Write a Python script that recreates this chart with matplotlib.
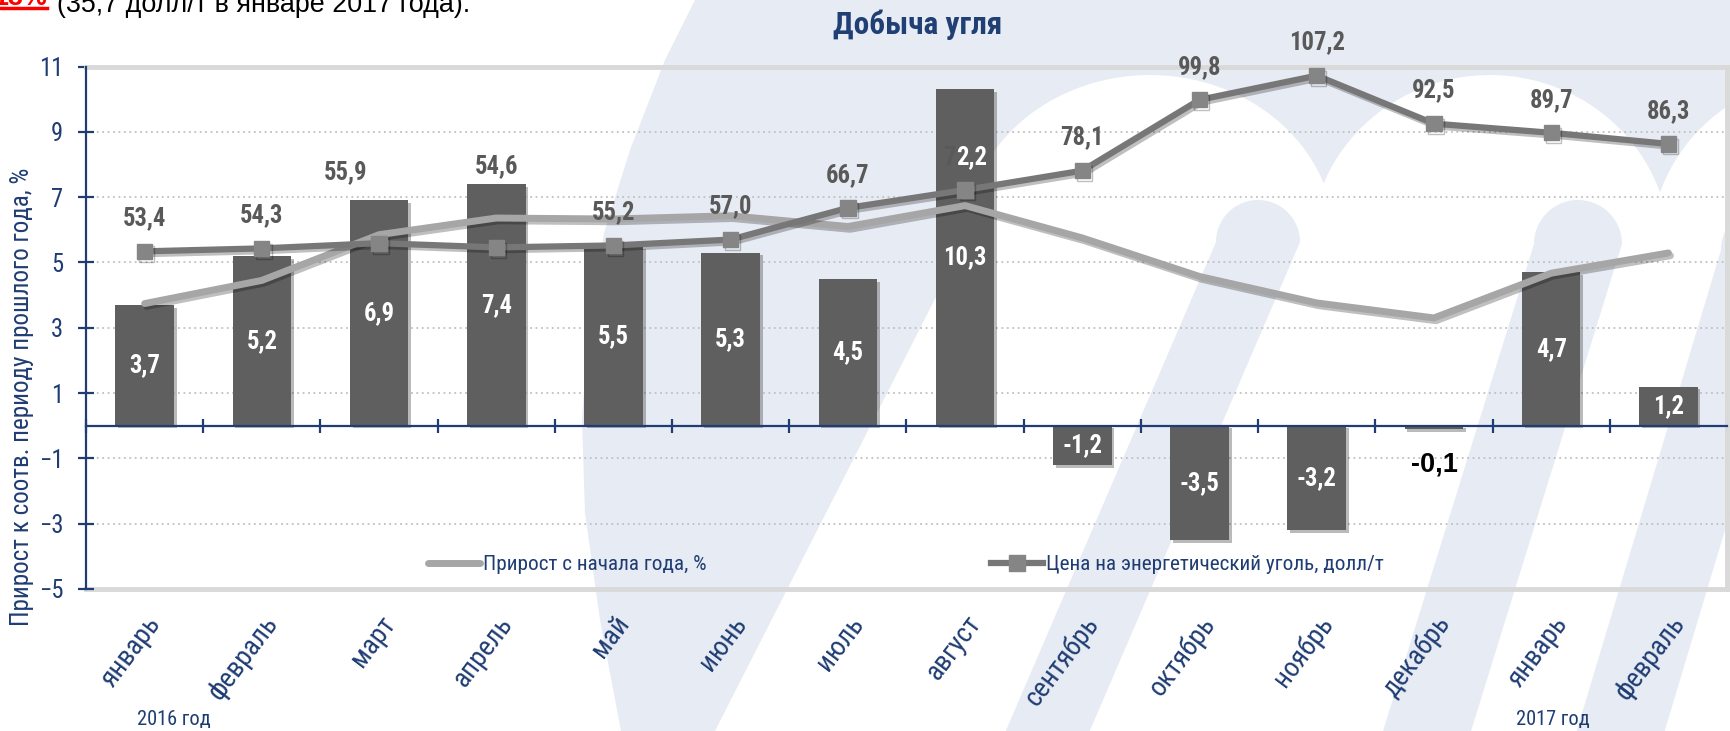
import numpy as np
import matplotlib
matplotlib.use('Agg')
import matplotlib.pyplot as plt
import matplotlib.font_manager as fm
from matplotlib.font_manager import FontProperties
from matplotlib.textpath import TextPath
from matplotlib.patches import Polygon
from matplotlib.lines import Line2D
from matplotlib import patheffects as pe
import matplotlib.transforms as mtransforms

# ---------------- data ----------------
months = ['январь', 'февраль', 'март', 'апрель', 'май', 'июнь', 'июль', 'август',
          'сентябрь', 'октябрь', 'ноябрь', 'декабрь', 'январь', 'февраль']
growth_yoy = [3.7, 5.2, 6.9, 7.4, 5.5, 5.3, 4.5, 10.3, -1.2, -3.5, -3.2, -0.1, 4.7, 1.2]
growth_ytd = [3.74, 4.45, 5.85, 6.36, 6.33, 6.43, 6.10, 6.74, 5.75, 4.57, 3.76, 3.30, 4.67, 5.29]
coal_price = [53.4, 54.3, 55.9, 54.6, 55.2, 57.0, 66.7, 72.2, 78.1, 99.8, 107.2, 92.5, 89.7, 86.3]
year_labels = ['2016 год', '2017 год']
series_names = ['Прирост с начала года, %', 'Цена на энергетический уголь, долл/т']
title = 'Добыча угля'
ylabel = 'Прирост к соотв. периоду прошлого года, %'
top_note_red = '13%'
top_note = '(35,7 долл/т в январе 2017 года).'

# ---------------- fonts ----------------
def has_family(name):
    ws = [f.weight for f in fm.fontManager.ttflist if f.name == name]
    ws = [int(w) if str(w).isdigit() else (700 if 'bold' in str(w) else 400) for w in ws]
    return any(w <= 500 for w in ws) and any(w >= 600 for w in ws)


NARROW_NAME = 'DejaVu Sans'
for cand in ['Liberation Sans Narrow', 'Arial Narrow', 'Roboto Condensed', 'PT Sans Narrow',
             'Fira Sans Condensed', 'IBM Plex Sans Condensed', 'Asap Condensed',
             'Barlow Semi Condensed', 'Archivo Narrow']:
    if has_family(cand):
        NARROW_NAME = cand
        break
NARROW = [NARROW_NAME, 'DejaVu Sans']
ARIAL = ['Liberation Sans', 'DejaVu Sans']
plt.rcParams['font.family'] = NARROW


def fit(s, target_px, family, weight='normal'):
    fp = FontProperties(family=family, weight=weight, size=100)
    w = TextPath((0, 0), s, size=100, prop=fp).get_extents().width * 100 / 72
    return 100 * target_px / w


FS_VAL = fit('55,9', 41, NARROW, 'bold')
FS_SMALLVAL = fit('-0,1', 45, ARIAL, 'bold')
FS_TITLE = fit(title, 167, NARROW, 'bold')
FS_LEG = fit(series_names[0], 221, NARROW)
FS_YLAB = fit(ylabel, 455, NARROW)
FS_TICK = fit('11', 18, NARROW)
FS_MONTH = fit('сентябрь', 102, NARROW)
FS_YEAR = fit(year_labels[0], 72, NARROW)
FS_NOTE = fit(top_note, 408, ARIAL)

# ---------------- style ----------------
W, H = 1731, 731
NAVY = '#1f3d73'
BAR_C = '#5f5f5f'
YTD_C = '#a6a6a6'
PRICE_C = '#777777'
MARK_C = '#858585'
WM = '#e7ebf3'

fig = plt.figure(figsize=(W / 100, H / 100), dpi=100)
fig.patch.set_facecolor('white')


def P(x, y):
    return (x / W, 1 - y / H)


def add_poly(pts, color):
    fig.patches.append(Polygon([P(*p) for p in pts], closed=True, transform=fig.transFigure,
                               facecolor=color, edgecolor='none', zorder=-10))


def ellipse_pts(cx, cy, rx, ry, a0=0, a1=360, n=120):
    a = np.radians(np.linspace(a0, a1, n))
    return list(zip(cx + rx * np.cos(a), cy - ry * np.sin(a)))


def stem_pts(cx, cy, r, slope):
    top = ellipse_pts(cx, cy, r, r, 180, 0, 60)
    return top + [(cx + r + slope * (H - cy), H), (cx - r + slope * (H - cy), H)]


# ---------------- watermark ----------------
left_curve = [(695, 0), (665, 60), (630, 150), (604, 233), (588, 330), (582, 420),
              (585, 513), (600, 620), (621, 731)]
add_poly(left_curve + [(W, H), (W, 0)], WM)
add_poly([(965, 240), (W, 240), (W, H), (715, H)], 'white')
add_poly(ellipse_pts(1150, 240, 185, 165), 'white')
add_poly(ellipse_pts(1490, 250, 180, 175), 'white')
add_poly(ellipse_pts(1830, 250, 180, 175), 'white')
add_poly(stem_pts(1258, 242, 42, -0.43), WM)
add_poly(stem_pts(1578, 244, 44, -0.31), WM)
add_poly(stem_pts(1765, 250, 44, -0.30), WM)

# ---------------- axes ----------------
L, R, T, B = 86, 1727, 66.5, 589
ax = fig.add_axes([L / W, 1 - B / H, (R - L) / W, (B - T) / H])
ax.set_facecolor('none')
x = np.arange(len(months))
ax.set_xlim(-0.5, len(months) - 0.5)
ax.set_ylim(-5, 11)

shadow = [pe.SimplePatchShadow(offset=(2, -2), alpha=0.3), pe.Normal()]
lshadow = [pe.SimpleLineShadow(offset=(1.5, -2), alpha=0.25), pe.Normal()]

for v in range(-3, 10, 2):
    ax.axhline(v, color='#c0c0c0', lw=1.3, ls=(0, (1, 2)), zorder=1)
ax.axhline(-5, color='#d9d9d9', lw=3.5, zorder=1, clip_on=False)

bars = ax.bar(x, growth_yoy, width=0.5, color=BAR_C, zorder=3)
for b in bars:
    b.set_path_effects(shadow)

ax.plot(x, growth_ytd, color=YTD_C, lw=5, solid_capstyle='round', solid_joinstyle='round',
        zorder=5, path_effects=lshadow)


def fmt(v):
    return f'{v:.1f}'.replace('.', ',')


for i, v in enumerate(growth_yoy):
    if abs(v) < 0.5:
        ax.annotate(fmt(v), (i, v), textcoords='offset pixels', xytext=(0, -36),
                    ha='center', va='center', fontsize=FS_SMALLVAL, fontweight='bold',
                    color='black', family=ARIAL, zorder=6)
    else:
        ax.text(i, v / 2, fmt(v), ha='center', va='center', fontsize=FS_VAL,
                fontweight='bold', color='white', family=NARROW, zorder=6)

# spines / ticks
for s in ['top', 'right']:
    ax.spines[s].set_color('#d9d9d9')
    ax.spines[s].set_linewidth(3.5)
ax.spines['left'].set_color(NAVY)
ax.spines['left'].set_linewidth(1.6)
ax.spines['left'].set_zorder(7)
ax.spines['bottom'].set_position(('data', 0))
ax.spines['bottom'].set_color(NAVY)
ax.spines['bottom'].set_linewidth(1.6)
ax.spines['bottom'].set_zorder(7)

ax.set_yticks(range(-5, 12, 2))
ax.tick_params(axis='y', direction='inout', length=12, width=1.6, color=NAVY,
               labelcolor=NAVY, labelsize=FS_TICK, pad=10.5)
for lbl in ax.get_yticklabels():
    lbl.set_family(NARROW)
ax.set_xticks(np.arange(-0.5, len(months), 1))
ax.set_xticklabels([])
ax.tick_params(axis='x', direction='inout', length=10, width=1.6, color=NAVY)

for i, m in enumerate(months):
    ax.annotate(m, (i, 0), xycoords=('data', 'axes fraction'), textcoords='offset pixels',
                xytext=(11, -30), ha='right', va='center', rotation=53,
                rotation_mode='anchor', fontsize=FS_MONTH, color=NAVY, family=NARROW)

# price on secondary scale
ax2 = ax.twinx()
ax2.set_ylim(-50, 110)
ax2.set_axis_off()
ax2.plot(x, coal_price, color=PRICE_C, lw=4.5, marker='s', ms=11, mfc=MARK_C, mec=MARK_C,
         solid_joinstyle='round', zorder=5, path_effects=lshadow)

label_offsets = {2: (-33, 71), 3: (0, 81)}
price_texts = []
for i, v in enumerate(coal_price):
    dx, dy = label_offsets.get(i, (0, 33))
    t = ax2.annotate(fmt(v), (i, v), textcoords='offset pixels', xytext=(dx, dy),
                     ha='center', va='center', fontsize=FS_VAL, fontweight='bold',
                     color='#595959', family=NARROW, zorder=6)
    price_texts.append(t)

# ---------------- texts ----------------
fig.text(918 / W, 1 - 25 / H, title, ha='center', va='center', fontsize=FS_TITLE,
         fontweight='bold', color='#1f3f75', family=NARROW)
fig.text(22 / W, 1 - 397 / H, ylabel, rotation=90, ha='center', va='center',
         fontsize=FS_YLAB, color=NAVY, family=NARROW)
fig.text(174 / W, 1 - 720 / H, year_labels[0], ha='center', va='center', fontsize=FS_YEAR,
         color=NAVY, family=NARROW)
fig.text(1553 / W, 1 - 720 / H, year_labels[1], ha='center', va='center', fontsize=FS_YEAR,
         color=NAVY, family=NARROW)

fig.text(57 / W, 1 - 12 / H, top_note, ha='left', va='baseline',
         fontsize=FS_NOTE, color='black', family=ARIAL)
fig.text(47 / W, 1 - 5 / H, top_note_red, ha='right', va='baseline', fontsize=FS_NOTE,
         fontweight='bold', color='red', family=ARIAL)
fig.lines.append(Line2D([0, 47 / W], [1 - 8 / H, 1 - 8 / H], transform=fig.transFigure,
                        color='red', lw=2.5))

# legend (two entries placed as in the original)
em_px = FS_LEG * 100 / 72
h1 = Line2D([], [], color=YTD_C, lw=5, solid_capstyle='round')
h2 = Line2D([], [], color=PRICE_C, lw=4.5, marker='s', ms=11, mfc=MARK_C, mec=MARK_C)
for h, name, x0 in [(h1, series_names[0], 428), (h2, series_names[1], 991)]:
    lg = fig.legend([h], [name], loc='center left', bbox_to_anchor=(x0 / W, 1 - 565 / H),
                    frameon=False, handlelength=52 / em_px, handletextpad=3 / em_px,
                    borderaxespad=0, borderpad=0, prop={'family': NARROW, 'size': FS_LEG})
    for t in lg.get_texts():
        t.set_color(NAVY)

# special two-tone label over the August bar
fig.canvas.draw()
bb = price_texts[7].get_window_extent()
fig.text(bb.x1, (bb.y0 + bb.y1) / 2, fmt(coal_price[7])[1:], ha='right', va='center',
         fontsize=FS_VAL, fontweight='bold', color='white', family=NARROW,
         transform=mtransforms.IdentityTransform(), zorder=10)

fig.savefig('out.png', dpi=100)
